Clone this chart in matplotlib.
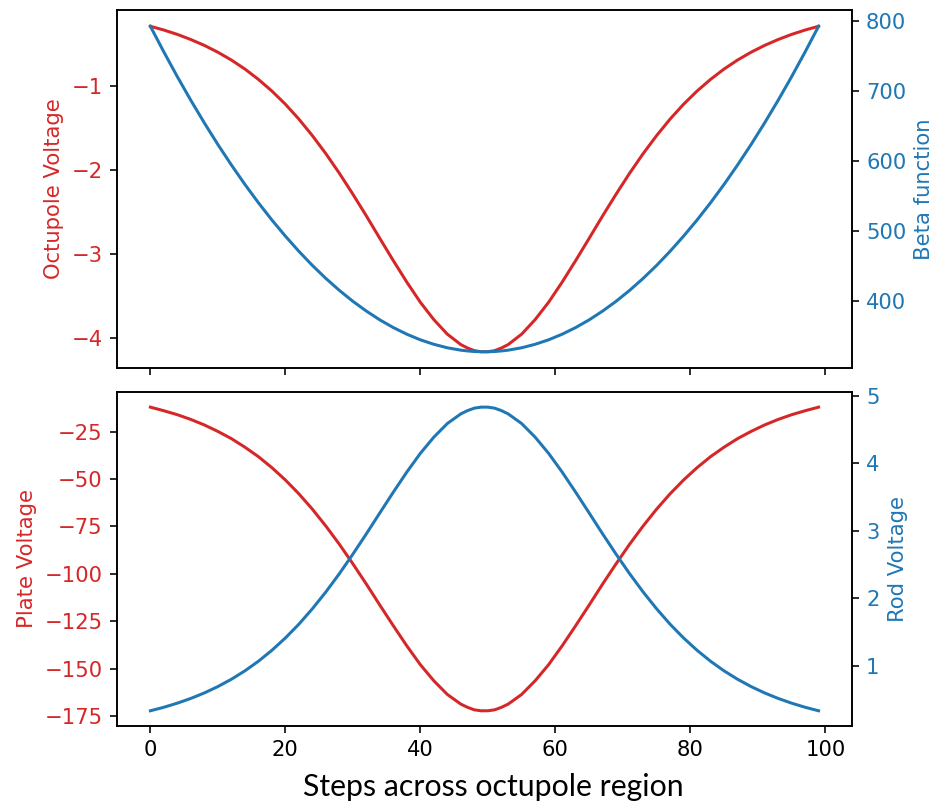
import matplotlib
matplotlib.use("Agg")
import matplotlib.pyplot as plt
from matplotlib.ticker import MultipleLocator

# values for the first half; the curves are mirror
# images about step 49.5, so the second half reuses them reversed
half_steps = [0, 2, 4, 6, 8, 10, 12, 14, 16, 18, 20, 22, 24, 26, 28, 30, 32,
              34, 36, 38, 40, 42, 44, 46, 47, 48, 49]
half_oct = [-0.293, -0.338, -0.390, -0.451, -0.521, -0.602, -0.695, -0.802, -0.925,
            -1.064, -1.221, -1.398, -1.595, -1.810, -2.043, -2.292, -2.551, -2.819,
            -3.084, -3.340, -3.579, -3.786, -3.959, -4.083, -4.124, -4.155, -4.168]
half_beta = [792.5, 755.7, 720.3, 686.5, 654.2, 623.4, 594.2, 566.4, 540.2,
             515.5, 492.4, 470.7, 450.5, 431.9, 414.8, 399.2, 385.2, 372.6,
             361.6, 352.1, 344.1, 337.7, 332.7, 329.3, 328.2, 327.4, 327.05]
half_plate = [-12.1, -14.0, -16.1, -18.6, -21.5, -24.9, -28.7, -33.2, -38.2,
              -44.0, -50.5, -57.8, -65.9, -74.8, -84.4, -94.7, -105.4, -116.5,
              -127.4, -138.0, -147.9, -156.4, -163.6, -168.7, -170.4, -171.7, -172.2]
half_rod = [0.339, 0.391, 0.452, 0.522, 0.603, 0.697, 0.805, 0.929, 1.071,
            1.233, 1.415, 1.619, 1.847, 2.096, 2.366, 2.654, 2.955, 3.265,
            3.572, 3.869, 4.145, 4.385, 4.586, 4.729, 4.777, 4.813, 4.828]

steps = half_steps + [99 - s for s in half_steps[::-1]]
octupole_v = half_oct + half_oct[::-1]
beta_fn = half_beta + half_beta[::-1]
plate_v = half_plate + half_plate[::-1]
rod_v = half_rod + half_rod[::-1]

red = "#d62728"
blue = "#1f77b4"
fs = 10.5

fig = plt.figure(figsize=(938/145, 806/145), dpi=145)
ax1 = fig.add_axes([0.1247, 0.5434, 0.7836, 0.4442])
ax3 = fig.add_axes([0.1247, 0.0993, 0.7836, 0.4144], sharex=ax1)

def pair(ax, y1, y2, lab1, lab2, step1, step2):
    ax.plot(steps, y1, color=red)
    ax.set_ylabel(lab1, color=red, fontsize=fs)
    ax.tick_params(axis="y", labelcolor=red, labelsize=fs)
    ax.tick_params(axis="x", labelsize=fs)
    ax.yaxis.set_major_locator(MultipleLocator(step1))
    tw = ax.twinx()
    tw.plot(steps, y2, color=blue)
    tw.set_ylabel(lab2, color=blue, fontsize=fs)
    tw.tick_params(axis="y", labelcolor=blue, labelsize=fs)
    tw.yaxis.set_major_locator(MultipleLocator(step2))
    return tw

pair(ax1, octupole_v, beta_fn, "Octupole Voltage", "Beta function", 1, 100)
pair(ax3, plate_v, rod_v, "Plate Voltage", "Rod Voltage", 25, 1)
ax3.xaxis.set_major_locator(MultipleLocator(20))
plt.setp(ax1.get_xticklabels(), visible=False)

fig.text(0.5256, 0.0124, "Steps across octupole region", fontsize=15,
         family=["Lato", "DejaVu Sans"], ha="center", va="baseline")

fig.savefig("out.png", dpi=145)
